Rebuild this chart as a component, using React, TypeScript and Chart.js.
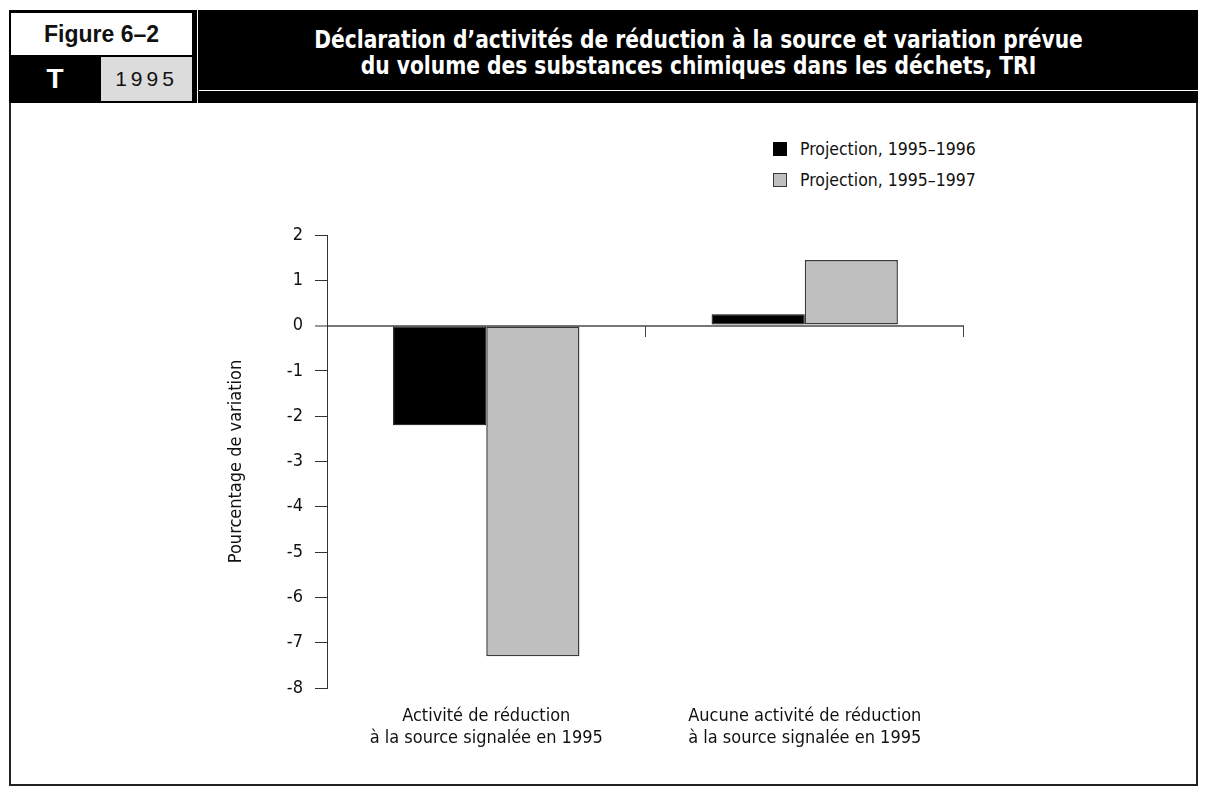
import React, { useEffect, useRef } from "react";
import { Chart, registerables } from "chart.js";

Chart.register(...registerables);

// ---- data ----
const categories: string[][] = [
  ["Activité de réduction", "à la source signalée en 1995"],
  ["Aucune activité de réduction", "à la source signalée en 1995"],
];
const seriesNames = ["Projection, 1995–1996", "Projection, 1995–1997"];
const values19951996 = [-2.2, 0.25];
const values19951997 = [-7.3, 1.45];
const yMin = -8;
const yMax = 2;
const yStep = 1;
const yAxisTitle = "Pourcentage de variation";
const titleLines = [
  "Déclaration d’activités de réduction à la source et variation prévue",
  "du volume des substances chimiques dans les déchets, TRI",
];
const figureLabel = "Figure 6–2";
const letterLabel = "T";
const yearLabel = "1995";
const seriesColors = ["#000000", "#bfbfbf"];
const seriesBorders = ["#000000", "#3a3a3a"];

const NARROW =
  '"Liberation Sans Narrow", "DejaVu Sans Condensed", "Roboto Condensed", sans-serif';
const SANS = '"Liberation Sans", Arial, sans-serif';

const categoryTicks = {
  id: "categoryTicks",
  afterDatasetsDraw(chart: any) {
    const xs = chart.scales.x;
    const ys = chart.scales.y;
    const y0 = Math.round(ys.getPixelForValue(0));
    const ctx = chart.ctx;
    ctx.save();
    ctx.strokeStyle = "#444";
    ctx.lineWidth = 1;
    for (let i = 0; i < categories.length; i++) {
      const xb = Math.round(xs.getPixelForValue(i + 0.5)) - 0.5;
      ctx.beginPath();
      ctx.moveTo(xb, y0);
      ctx.lineTo(xb, y0 + 11);
      ctx.stroke();
    }
    ctx.restore();
  },
};

function ChartCanvas() {
  const ref = useRef<HTMLCanvasElement | null>(null);
  useEffect(() => {
    if (!ref.current) return;
    const chart = new Chart(ref.current, {
      type: "bar",
      data: {
        labels: categories,
        datasets: [
          {
            label: seriesNames[0],
            data: values19951996,
            backgroundColor: seriesColors[0],
            borderColor: seriesBorders[0],
            borderWidth: 1,
            borderSkipped: false,
            categoryPercentage: 0.585,
            barPercentage: 1,
          },
          {
            label: seriesNames[1],
            data: values19951997,
            backgroundColor: seriesColors[1],
            borderColor: seriesBorders[1],
            borderWidth: 1.5,
            borderSkipped: false,
            categoryPercentage: 0.585,
            barPercentage: 1,
          },
        ],
      },
      options: {
        animation: false,
        responsive: false,
        maintainAspectRatio: false,
        layout: { padding: { left: 124, right: 136, top: 125, bottom: 12 } },
        plugins: {
          legend: { display: false },
          tooltip: { enabled: false },
        },
        scales: {
          x: {
            grid: { display: false, drawTicks: false },
            border: { display: false },
            ticks: {
              color: "#111",
              padding: 17,
              maxRotation: 0,
              autoSkip: false,
              font: { family: NARROW, size: 18, lineHeight: 1.25 },
            },
            afterFit: (s: any) => {
              s.height = 80;
            },
          },
          y: {
            min: yMin,
            max: yMax,
            ticks: {
              stepSize: yStep,
              color: "#111",
              padding: 12,
              font: { family: NARROW, size: 18 },
            },
            grid: {
              color: (c: any) => (c.tick && c.tick.value === 0 ? "#777" : "rgba(0,0,0,0)"),
              lineWidth: (c: any) => (c.tick && c.tick.value === 0 ? 2 : 1),
              tickColor: "#333",
              tickWidth: 1,
              tickLength: 12,
            },
            border: { display: true, color: "#333", width: 1 },
            title: {
              display: true,
              text: yAxisTitle,
              color: "#111",
              font: { family: NARROW, size: 18 },
              padding: { top: 2, bottom: 2 },
            },
            afterFit: (s: any) => {
              s.width = 103;
            },
          },
        },
      },
      plugins: [categoryTicks],
    });
    return () => chart.destroy();
  }, []);
  return (
    <canvas
      ref={ref}
      width={1000}
      height={670}
      style={{ position: "absolute", left: 100, top: 110, width: 1000, height: 670 }}
    />
  );
}

export default function App() {
  return (
    <div
      style={{
        position: "absolute",
        left: 0,
        top: 0,
        width: 1206,
        height: 801,
        background: "#fff",
        overflow: "hidden",
      }}
    >
      {/* frame */}
      <div
        style={{
          position: "absolute",
          left: 9,
          top: 10,
          width: 1189,
          height: 776,
          border: "2px solid #222",
          boxSizing: "border-box",
        }}
      />
      {/* header band */}
      <div
        style={{ position: "absolute", left: 9, top: 10, width: 1189, height: 93, background: "#000" }}
      />
      <div
        style={{
          position: "absolute",
          left: 11,
          top: 13,
          width: 181,
          height: 42,
          background: "#fff",
          display: "flex",
          alignItems: "center",
          justifyContent: "center",
          fontFamily: SANS,
          fontWeight: 700,
          fontSize: 23,
          color: "#111",
        }}
      >
        {figureLabel}
      </div>
      <div
        style={{
          position: "absolute",
          left: 11,
          top: 57,
          width: 88,
          height: 44,
          display: "flex",
          alignItems: "center",
          justifyContent: "center",
          fontFamily: SANS,
          fontWeight: 900,
          fontSize: 28,
          color: "#fff",
        }}
      >
        {letterLabel}
      </div>
      <div
        style={{
          position: "absolute",
          left: 101,
          top: 57,
          width: 91,
          height: 44,
          background: "#dcdcdc",
          display: "flex",
          alignItems: "center",
          justifyContent: "center",
          fontFamily: SANS,
          fontSize: 21,
          letterSpacing: 4,
          color: "#111",
        }}
      >
        {yearLabel}
      </div>
      <div style={{ position: "absolute", left: 197, top: 10, width: 1, height: 93, background: "#fff" }} />
      <div style={{ position: "absolute", left: 199, top: 90, width: 999, height: 1, background: "#fff" }} />
      {titleLines.map((t, i) => (
        <div
          key={i}
          style={{
            position: "absolute",
            left: 199,
            width: 999,
            top: 26 + i * 26,
            height: 28,
            lineHeight: "28px",
            textAlign: "center",
            fontFamily: NARROW,
            fontWeight: 700,
            fontSize: 25,
            color: "#fff",
            whiteSpace: "nowrap",
            transform: "scaleX(0.9)",
            transformOrigin: "center",
          }}
        >
          {t}
        </div>
      ))}
      {/* legend */}
      {seriesNames.map((n, i) => (
        <div
          key={n}
          style={{
            position: "absolute",
            left: 773,
            top: 138 + i * 31,
            height: 22,
            display: "flex",
            alignItems: "center",
            fontFamily: NARROW,
            fontSize: 17.5,
            color: "#111",
            whiteSpace: "nowrap",
          }}
        >
          <span
            style={{
              display: "inline-block",
              width: 14,
              height: 14,
              boxSizing: "border-box",
              background: seriesColors[i],
              border: `1px solid ${seriesBorders[i]}`,
              marginRight: 13,
            }}
          />
          {n}
        </div>
      ))}
      <ChartCanvas />
    </div>
  );
}
